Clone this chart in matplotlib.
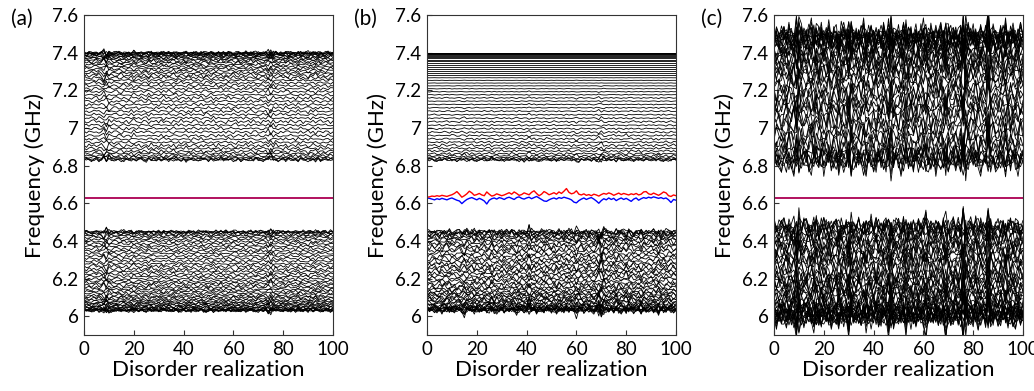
import numpy as np
import matplotlib
matplotlib.use("Agg")
import matplotlib.pyplot as plt

plt.rcParams['font.family'] = ['Lato', 'DejaVu Sans']

# ---------------- data ----------------
realizations = np.arange(101)

# clean eigen-frequencies (GHz) of the two bands (ascending)
upper_band = [6.8298, 6.8313, 6.8356, 6.8426, 6.8520, 6.8636, 6.8769, 6.8916, 6.9074, 6.9241,
              6.9415, 6.9594, 6.9777, 6.9962, 7.0148, 7.0335, 7.0521, 7.0706, 7.0889, 7.1070,
              7.1248, 7.1423, 7.1594, 7.1762, 7.1925, 7.2083, 7.2237, 7.2385, 7.2529, 7.2666,
              7.2798, 7.2923, 7.3043, 7.3156, 7.3262, 7.3362, 7.3455, 7.3541, 7.3620, 7.3691,
              7.3756, 7.3813, 7.3862, 7.3904, 7.3939, 7.3966, 7.3985, 7.3996, 7.4000]
lower_band = [6.0300, 6.0303, 6.0312, 6.0326, 6.0347, 6.0373, 6.0405, 6.0443, 6.0486, 6.0535,
              6.0589, 6.0649, 6.0714, 6.0785, 6.0860, 6.0941, 6.1026, 6.1117, 6.1212, 6.1312,
              6.1415, 6.1524, 6.1635, 6.1751, 6.1871, 6.1993, 6.2119, 6.2247, 6.2378, 6.2511,
              6.2646, 6.2782, 6.2919, 6.3057, 6.3194, 6.3330, 6.3465, 6.3597, 6.3726, 6.3850,
              6.3969, 6.4080, 6.4181, 6.4273, 6.4351, 6.4415, 6.4461, 6.4490, 6.4500]

# band edges of panel (c) (clean levels before strong disorder)
c_upper_edges = (6.81, 7.50)
c_lower_edges = (5.99, 6.48)

edge_state = 6.630

# edge states of panel (b)
edge_red_b = [6.632, 6.634, 6.638, 6.636, 6.640, 6.637, 6.642, 6.639, 6.636, 6.641,
              6.645, 6.652, 6.662, 6.648, 6.632, 6.640, 6.650, 6.664, 6.655, 6.642,
              6.646, 6.652, 6.644, 6.640, 6.660, 6.648, 6.638, 6.642, 6.650, 6.645,
              6.640, 6.644, 6.650, 6.656, 6.648, 6.660, 6.652, 6.642, 6.646, 6.655,
              6.650, 6.645, 6.658, 6.666, 6.652, 6.640, 6.648, 6.662, 6.655, 6.645,
              6.650, 6.656, 6.648, 6.660, 6.652, 6.664, 6.678, 6.658, 6.650, 6.654,
              6.666, 6.648, 6.644, 6.650, 6.642, 6.646, 6.640, 6.648, 6.644, 6.638,
              6.646, 6.652, 6.648, 6.655, 6.650, 6.642, 6.648, 6.654, 6.646, 6.652,
              6.648, 6.644, 6.650, 6.646, 6.652, 6.644, 6.648, 6.660, 6.662, 6.650,
              6.646, 6.654, 6.648, 6.642, 6.650, 6.660, 6.655, 6.640, 6.636, 6.644, 6.640]
edge_blue_b = [6.628, 6.626, 6.622, 6.618, 6.624, 6.620, 6.626, 6.622, 6.618, 6.624,
               6.628, 6.622, 6.616, 6.612, 6.598, 6.610, 6.620, 6.626, 6.630, 6.624,
               6.618, 6.626, 6.620, 6.612, 6.596, 6.616, 6.624, 6.628, 6.622, 6.630,
               6.626, 6.620, 6.628, 6.632, 6.626, 6.620, 6.630, 6.634, 6.626, 6.622,
               6.628, 6.632, 6.624, 6.630, 6.636, 6.628, 6.620, 6.612, 6.610, 6.618,
               6.624, 6.628, 6.622, 6.630, 6.626, 6.632, 6.628, 6.624, 6.618, 6.606,
               6.602, 6.614, 6.622, 6.628, 6.620, 6.626, 6.630, 6.622, 6.612, 6.600,
               6.614, 6.624, 6.618, 6.628, 6.620, 6.626, 6.614, 6.622, 6.628, 6.620,
               6.626, 6.618, 6.610, 6.622, 6.628, 6.616, 6.624, 6.630, 6.626, 6.632,
               6.628, 6.634, 6.630, 6.626, 6.630, 6.624, 6.628, 6.618, 6.604, 6.620, 6.616]

# disorder fluctuation patterns (arbitrary units, typical jitter shapes)
pattern_0 = [2, -1, 3, 0, -2, 1, -3, 2, 4, -1, 0, -2, 1, 3, -1, -4, 2, 0, 1, -3,
             2, -1, 0, 3, -2, 1, 4, -1, -3, 0, 2, -2, 1, -1, 3, 0, -4, 2, 1, -2,
             0, 3, -1, 2, -3, 1, 0, -2, 4, 1, -1, 2, -3, 0, 1, -2, 3, -1, 2, 0,
             -4, 1, 3, -2, 0, 2, -1, -3, 1, 4, -2, 0, 1, -1, 3, -2, 2, 0, -3, 1,
             -1, 2, 4, -2, 0, 1, -3, 2, -1, 0, 3, -2, 1, -4, 2, 0, -1, 3, 1, -2, 0]
pattern_1 = [-1, 2, 0, -3, 1, 3, -2, 0, 2, -1, 4, 1, -2, -1, 3, 0, -3, 2, -1, 1,
             0, -2, 3, 1, -1, -4, 2, 0, 3, -2, 1, -1, 0, 2, -3, 1, 3, -1, 0, -2,
             2, -4, 1, 0, 3, -1, -2, 2, 0, 1, -3, 2, 1, -1, 0, 4, -2, 1, -1, 3,
             0, -2, 2, -3, 1, 0, -1, 3, -2, 2, 1, -1, -3, 2, 0, 4, -1, 1, -2, 0,
             3, -3, 1, 2, -1, 0, -2, 3, 1, -1, -2, 0, 2, -1, 3, -3, 1, 0, -1, 2, 1]
pattern_2 = [0, 3, -2, 1, -1, 2, 0, -3, 1, 3, -2, 0, 2, -1, -3, 1, 4, -1, 0, 2,
             -1, 1, -2, 3, 0, -1, 2, -4, 1, 0, 3, -2, 1, 0, -1, 2, -2, 4, -1, 1,
             0, -3, 2, 1, -2, 0, 3, -1, 2, -1, 1, 0, -2, 3, -3, 1, 0, 2, -1, -2,
             2, 4, -1, 0, 1, -3, 2, -1, 0, 3, -1, 2, 0, -2, 1, -1, 3, -4, 2, 0,
             1, -2, 3, 0, -1, 2, -3, 1, 0, -1, 2, 1, -3, 0, 2, -1, 1, 3, -2, 0, -1]
pattern_3 = [1, -2, -1, 2, 3, -1, 1, -2, 0, -3, 2, -1, 3, 0, 1, -2, -1, 2, -3, 1,
             3, 0, -1, -2, 2, 1, -3, 1, 0, 2, -2, 3, -1, 1, 0, -3, 2, 0, -1, 4,
             -1, 1, 0, -2, 2, 3, -1, 0, -3, 1, 2, -1, 3, -2, 0, 1, -1, -3, 2, 0,
             1, 3, -2, 1, -1, 0, 2, -2, 3, -1, 0, -3, 2, 0, 1, -1, 3, -2, -1, 2,
             -1, 1, -2, 3, 0, -2, 1, 2, -3, 1, 0, -1, 2, -2, 1, 3, -1, 0, 2, -3, 1]
pattern_4 = [-2, 1, 0, 2, -1, -3, 3, 1, -2, 0, 1, 3, -1, -2, 0, 2, -1, 1, 3, -2,
             0, -1, 2, -2, 1, 3, -3, 0, 1, -1, 2, 0, -3, 1, -1, 2, 1, -2, 3, 0,
             -1, 2, -1, 3, -2, 0, 1, -3, 2, 1, 0, -2, 3, -1, 2, -1, 0, 1, -3, 2,
             -1, 0, 1, 2, -2, 3, -1, -2, 0, 1, 3, -1, 0, -2, 2, 1, -3, 1, 0, -1,
             2, -2, 0, 1, -1, 3, -2, 0, 2, -1, 1, -3, 2, 0, -1, 1, 2, -2, 0, 3, -1]
pattern_5 = [3, 0, -1, -2, 2, 0, 1, -1, -3, 2, -1, 0, 1, 3, -2, -1, 2, 0, -1, 3,
             -3, 1, 2, -1, 0, 2, -2, 3, -1, 0, 1, -2, 2, -1, 3, 0, -1, -3, 2, 1,
             -2, 0, 3, -1, 1, -2, 2, 0, -1, 3, 1, -3, 0, 2, -1, 1, -2, 3, 0, -1,
             3, -1, -2, 0, 2, -3, 1, 1, -1, 0, -2, 1, 3, -1, 0, -2, 2, -1, 1, 3,
             0, 2, -1, -3, 1, 0, 3, -2, 1, -2, -1, 3, 0, -2, 1, -1, 2, 0, -3, 1, 2]

# realizations with stronger disorder (multiplier of fluctuation)
kicks_a = {8: 2.2, 9: 2.6, 10: 1.8, 20: 1.6, 32: 1.5, 49: 1.5, 74: 2.2, 75: 2.6, 90: 1.6}
kicks_b = {15: 1.5, 41: 2.0, 60: 1.7, 69: 2.0, 70: 2.6, 71: 2.0, 80: 1.8, 96: 1.5}
kicks_c = {9: 1.8, 10: 2.0, 17: 1.8, 22: 1.4, 30: 1.7, 31: 1.5, 46: 1.8, 47: 2.0, 53: 1.7,
           61: 1.5, 69: 1.7, 76: 2.0, 77: 1.7, 86: 2.1, 96: 1.5}

yticks = [6, 6.2, 6.4, 6.6, 6.8, 7, 7.2, 7.4, 7.6]
yticklabels = ['6', '6.2', '6.4', '6.6', '6.8', '7', '7.2', '7.4', '7.6']
xticks = [0, 20, 40, 60, 80, 100]

# ---------------- drawing ----------------
patterns = np.array([pattern_0, pattern_1, pattern_2, pattern_3, pattern_4, pattern_5], float)
W, H = 1034, 391
fig = plt.figure(figsize=(W / 100, H / 100), dpi=100)

lefts = [84, 427, 774]
labels = ['(a)', '(b)', '(c)']
axes = []
for i, lpx in enumerate(lefts):
    ax = fig.add_axes([lpx / W, 1 - 335 / H, 249 / W, 320 / H])
    axes.append(ax)


def kick_profile(kicks):
    m = np.ones(len(realizations))
    for k, v in kicks.items():
        m[k] = v
    return m


def jitter(j, shift, sign):
    p = patterns[(j + shift) % 6] + 0.5 * patterns[(j // 6 + shift + 1) % 6]
    s = 1 if (j // 6) % 2 == 0 else -1
    return sign * s * p / 1.5


def band_lines(ax, levels, amp, kicks, shift, sign, weights=None):
    m = kick_profile(kicks)
    for j, lev in enumerate(levels):
        w = 1.0 if weights is None else weights[j]
        y = lev + amp * w * m * jitter(j, shift, sign)
        ax.plot(realizations, y, color='black', lw=0.6)


# panel (a)
ax = axes[0]
band_lines(ax, upper_band, 0.0035, kicks_a, 0, 1)
band_lines(ax, lower_band, 0.0035, kicks_a, 3, -1)
ax.plot(realizations, np.full(len(realizations), edge_state), color='blue', lw=1.1)
ax.plot(realizations, np.full(len(realizations), edge_state), color='red', lw=1.1, alpha=0.8)

# panel (b)
ax = axes[1]
nU = len(upper_band)
wts = np.clip(1 - np.arange(nU) / 30.0, 0, 1)
band_lines(ax, upper_band, 0.0035, kicks_b, 2, -1, weights=wts)
band_lines(ax, lower_band, 0.0065, kicks_b, 5, 1)
ax.plot(realizations, edge_blue_b, color='blue', lw=1.0)
ax.plot(realizations, edge_red_b, color='red', lw=1.0)

# panel (c)
ax = axes[2]
cu = c_upper_edges[0] + (np.array(upper_band) - upper_band[0]) / (upper_band[-1] - upper_band[0]) * (c_upper_edges[1] - c_upper_edges[0])
cl = c_lower_edges[0] + (np.array(lower_band) - lower_band[0]) / (lower_band[-1] - lower_band[0]) * (c_lower_edges[1] - c_lower_edges[0])
band_lines(ax, cu, 0.023, kicks_c, 4, 1)
band_lines(ax, cl, 0.020, kicks_c, 1, -1)
ax.plot(realizations, np.full(len(realizations), edge_state), color='blue', lw=1.1)
ax.plot(realizations, np.full(len(realizations), edge_state), color='red', lw=1.1, alpha=0.8)

for i, ax in enumerate(axes):
    ax.set_xlim(0, 100)
    ax.set_ylim(5.9, 7.6)
    ax.set_xticks(xticks)
    ax.set_xticklabels([str(t) for t in xticks])
    ax.set_yticks(yticks)
    ax.set_yticklabels(yticklabels)
    ax.tick_params(direction='in', length=3.5, width=0.8, labelsize=13.5, pad=4,
                   color='#333333', labelcolor='black')
    for sp in ax.spines.values():
        sp.set_color('#333333')
        sp.set_linewidth(0.8)
    ax.set_xlabel('Disorder realization', fontsize=16, labelpad=2)
    ax.set_ylabel('Frequency (GHz)', fontsize=16, labelpad=5)
    fig.text((lefts[i] - 73) / W, 1 - 25 / H, labels[i], fontsize=15, ha='left', va='baseline')

fig.savefig('out.png', dpi=100)
